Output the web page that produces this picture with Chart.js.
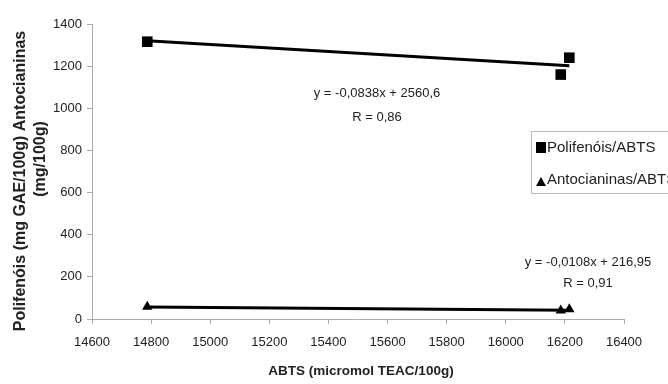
<!DOCTYPE html>
<html>
<head>
<meta charset="utf-8">
<script src="https://cdn.jsdelivr.net/npm/chart.js@4/dist/chart.umd.min.js"></script>
<style>
  body { margin: 0; background: #fff; }
</style>
</head>
<body>
<canvas id="grafico" width="668" height="384"></canvas>
<script>
// valores
var abtsX = [14787, 16186, 16215];
var polifenois = [1316, 1160, 1240];
var antocianinas = [58, 40, 46];

// pontas das linhas de tendencia
var tendX = [14787, 16215];
var tendPoli = [1321, 1202];
var tendAnto = [57, 42];

var xTicks = [14600, 14800, 15000, 15200, 15400, 15600, 15800, 16000, 16200, 16400];
var yTicks = [0, 200, 400, 600, 800, 1000, 1200, 1400];

var eqPoli = ['y = -0,0838x + 2560,6', 'R = 0,86'];
var eqAnto = ['y = -0,0108x + 216,95', 'R = 0,91'];
var legenda = ['Polifenóis/ABTS', 'Antocianinas/ABTS'];

function pares(xs, ys) {
  var out = [];
  for (var i = 0; i < xs.length; i++) out.push({ x: xs[i], y: ys[i] });
  return out;
}

var corTexto = '#222';
var corEixo = '#aaa';
var fonte = 'Liberation Sans, Arial, sans-serif';

// textos extras: titulos dos eixos, equacoes e legenda
var extras = {
  id: 'extras',
  afterDraw: function (chart) {
    var ctx = chart.ctx;
    ctx.save();
    ctx.fillStyle = corTexto;
    ctx.textAlign = 'center';
    ctx.textBaseline = 'middle';

    // titulo eixo x
    ctx.font = 'bold 13.5px ' + fonte;
    ctx.fillText('ABTS (micromol TEAC/100g)', 361, 371);

    // titulo eixo y
    ctx.font = 'bold 16px ' + fonte;
    ctx.save();
    ctx.translate(21, 181);
    ctx.rotate(-Math.PI / 2);
    ctx.fillText('Polifenóis (mg GAE/100g) Antocianinas', 0, 0);
    ctx.restore();
    ctx.save();
    ctx.translate(41, 159);
    ctx.rotate(-Math.PI / 2);
    ctx.fillText('(mg/100g)', 0, 0);
    ctx.restore();

    // equacoes
    ctx.font = '13px ' + fonte;
    ctx.fillText(eqPoli[0], 377, 93);
    ctx.fillText(eqPoli[1], 377, 117);
    ctx.fillText(eqAnto[0], 588, 262);
    ctx.fillText(eqAnto[1], 588, 283);

    // legenda
    ctx.fillStyle = '#fff';
    ctx.fillRect(531, 131, 160, 62);
    ctx.strokeStyle = '#bbb';
    ctx.lineWidth = 1;
    ctx.strokeRect(531.5, 131.5, 160, 62);
    ctx.fillStyle = '#000';
    ctx.fillRect(536, 142, 10, 11);
    ctx.beginPath();
    ctx.moveTo(536, 186);
    ctx.lineTo(541, 177);
    ctx.lineTo(546, 186);
    ctx.closePath();
    ctx.fill();
    ctx.fillStyle = corTexto;
    ctx.textAlign = 'left';
    ctx.font = '15px ' + fonte;
    ctx.fillText(legenda[0], 547, 148);
    ctx.fillText(legenda[1], 547, 180);
    ctx.restore();
  }
};

new Chart(document.getElementById('grafico'), {
  type: 'scatter',
  data: {
    datasets: [
      {
        label: 'tendPoli',
        data: pares(tendX, tendPoli),
        showLine: true,
        borderColor: '#000',
        borderWidth: 3,
        pointRadius: 0
      },
      {
        label: 'tendAnto',
        data: pares(tendX, tendAnto),
        showLine: true,
        borderColor: '#000',
        borderWidth: 3,
        pointRadius: 0
      },
      {
        label: legenda[0],
        data: pares(abtsX, polifenois),
        pointStyle: 'rect',
        pointRadius: 7.5,
        backgroundColor: '#000',
        borderColor: '#000',
        borderWidth: 0
      },
      {
        label: legenda[1],
        data: pares(abtsX, antocianinas),
        pointStyle: 'triangle',
        pointRadius: 6,
        backgroundColor: '#000',
        borderColor: '#000',
        borderWidth: 0
      }
    ]
  },
  options: {
    responsive: false,
    animation: false,
    layout: { padding: { top: 24, right: 44, left: 0, bottom: 0 } },
    plugins: { legend: { display: false }, tooltip: { enabled: false } },
    scales: {
      x: {
        type: 'linear',
        min: 14600,
        max: 16400,
        afterBuildTicks: function (s) { s.ticks = xTicks.map(function (v) { return { value: v }; }); },
        afterFit: function (s) { s.height = 65; },
        grid: { drawOnChartArea: false, color: corEixo, tickLength: 5 },
        border: { color: corEixo },
        ticks: {
          color: corTexto, font: { family: fonte, size: 13 }, padding: 11,
          callback: function (v) { return String(v); }
        }
      },
      y: {
        min: 0,
        max: 1400,
        afterBuildTicks: function (s) { s.ticks = yTicks.map(function (v) { return { value: v }; }); },
        afterFit: function (s) { s.width = 92; },
        grid: { drawOnChartArea: false, color: corEixo, tickLength: 5 },
        border: { color: corEixo },
        ticks: {
          color: corTexto, font: { family: fonte, size: 13 }, padding: 5,
          callback: function (v) { return String(v); }
        }
      }
    }
  },
  plugins: [extras]
});
</script>
</body>
</html>
